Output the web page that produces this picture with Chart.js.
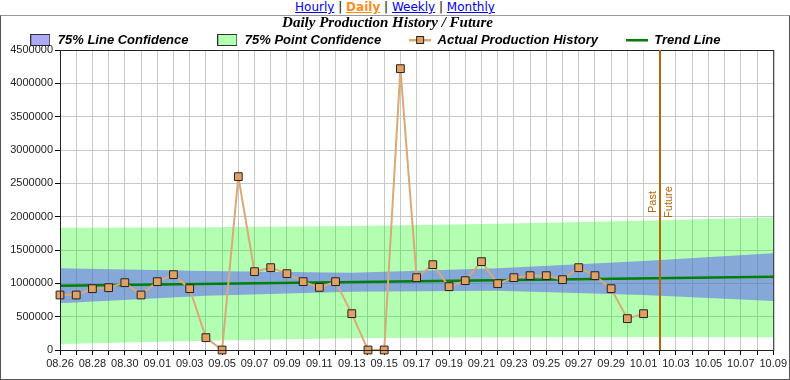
<!DOCTYPE html>
<html lang="en">
<head>
  <meta charset="UTF-8">
  <title>Daily Production History / Future</title>
  <style>
    body {
      margin: 0;
      background: white;
      font-family: "DejaVu Sans", sans-serif;
    }
    #nav {
      width: 790px;
      height: 15px;
      line-height: 14px;
      font-size: 12px;
      text-align: center;
    }
    #nav a { color: #0000EE; }
    #nav a.cur { color: #FF8C1A; font-weight: bold; }
    #box {
      position: absolute;
      left: 0;
      top: 15px;
      width: 788px;
      height: 363px;
      border: 1px solid #555;
      border-top-color: #999;
    }
  </style>
</head>
<body>
  <div id="nav"><a href="#">Hourly</a> | <a href="#" class="cur">Daily</a> | <a href="#">Weekly</a> | <a href="#">Monthly</a></div>
  <div id="box"><canvas id="chart" width="788" height="363"></canvas></div>

  <script src="https://cdn.jsdelivr.net/npm/chart.js"></script>
  <script>
    const dates = [
      '08.26', '08.27', '08.28', '08.29', '08.30', '08.31',
      '09.01', '09.02', '09.03', '09.04', '09.05', '09.06', '09.07', '09.08', '09.09', '09.10',
      '09.11', '09.12', '09.13', '09.14', '09.15', '09.16', '09.17', '09.18', '09.19', '09.20',
      '09.21', '09.22', '09.23', '09.24', '09.25', '09.26', '09.27', '09.28', '09.29', '09.30',
      '10.01', '10.02', '10.03', '10.04', '10.05', '10.06', '10.07', '10.08', '10.09'
    ];
    // actual daily production, 08.26 .. 10.01
    const production = [
      825000, 825000, 920000, 935000, 1010000, 825000,
      1025000, 1130000, 920000, 185000, 0, 2600000, 1175000, 1235000, 1145000, 1025000,
      940000, 1025000, 545000, 0, 0, 4220000, 1085000, 1280000, 950000, 1040000,
      1325000, 995000, 1085000, 1115000, 1115000, 1055000, 1235000, 1115000, 920000, 470000,
      545000
    ];
    const trendDates = ['08.26', '10.09'];
    const trendValues = [965000, 1100000];

    const bandDates = ['08.26', '09.04', '09.13', '09.22', '10.01', '10.09'];
    const lineUpper = [1225000, 1185000, 1160000, 1225000, 1335000, 1450000];
    const lineLower = [700000, 815000, 875000, 890000, 825000, 735000];
    const pointUpper = [1835000, 1840000, 1860000, 1895000, 1940000, 1990000];
    const pointLower = [90000, 140000, 175000, 190000, 195000, 190000];

    const pastFutureDate = '10.02';
    const yTicks = { min: 0, max: 4500000, step: 500000 };

    const BROWN = '#B8660C';
    const pairs = (xs, ys) => xs.map((x, i) => ({ x: x, y: ys[i] }));

    // little legend pictures
    function swatch(fill) {
      const c = document.createElement('canvas');
      c.width = 20; c.height = 12;
      const g = c.getContext('2d');
      g.fillStyle = fill;
      g.fillRect(0, 0, 20, 12);
      g.strokeStyle = '#333';
      g.strokeRect(0.5, 0.5, 19, 11);
      return c;
    }
    function lineIcon(color, marker) {
      const c = document.createElement('canvas');
      c.width = 22; c.height = 10;
      const g = c.getContext('2d');
      g.fillStyle = color;
      g.fillRect(0, 4, 22, 2.5);
      if (marker) {
        g.fillStyle = marker;
        g.fillRect(7.5, 1.5, 7, 7);
        g.strokeStyle = '#222';
        g.strokeRect(7.5, 1.5, 7, 7);
      }
      return c;
    }

    const pad = '\u00a0\u00a0\u00a0\u00a0\u00a0\u00a0\u00a0';
    const legendItems = [
      { text: '75% Line Confidence' + pad, pointStyle: swatch('#ACA8FE') },
      { text: '75% Point Confidence' + pad, pointStyle: swatch('#B3FFB3') },
      { text: 'Actual Production History' + pad, pointStyle: lineIcon('#DDA877', '#E2A063') },
      { text: 'Trend Line' + pad, pointStyle: lineIcon('#008000') }
    ];

    const frameAndMarker = {
      id: 'frameAndMarker',
      afterDatasetsDraw(chart) {
        const { ctx, chartArea: a, scales } = chart;
        ctx.save();
        ctx.strokeStyle = '#222';
        ctx.lineWidth = 1;
        ctx.strokeRect(a.left + 0.5, a.top + 0.5, a.right - a.left, a.bottom - a.top);

        const x = Math.round(scales.x.getPixelForValue(dates.indexOf(pastFutureDate)));
        ctx.strokeStyle = BROWN;
        ctx.lineWidth = 2;
        ctx.beginPath();
        ctx.moveTo(x, a.top);
        ctx.lineTo(x, a.bottom);
        ctx.stroke();

        const y = scales.y.getPixelForValue(2220000);
        ctx.fillStyle = BROWN;
        ctx.font = '11px "Liberation Sans", Arial, sans-serif';
        ctx.textAlign = 'center';
        ctx.translate(x, y);
        ctx.rotate(-Math.PI / 2);
        ctx.textBaseline = 'bottom';
        ctx.fillText('Past', 0, -2);
        ctx.textBaseline = 'top';
        ctx.fillText('Future', 0, 3);
        ctx.restore();
      }
    };

    const band = { borderWidth: 0, pointRadius: 0, tension: 0 };

    new Chart(document.getElementById('chart'), {
      type: 'line',
      data: {
        labels: dates,
        datasets: [
          Object.assign({ data: pairs(bandDates, pointUpper), fill: false, order: 4 }, band),
          Object.assign({ data: pairs(bandDates, pointLower), fill: '-1', backgroundColor: 'rgba(0,255,0,0.3)', order: 3 }, band),
          Object.assign({ data: pairs(bandDates, lineUpper), fill: false, order: 2 }, band),
          Object.assign({ data: pairs(bandDates, lineLower), fill: '-1', backgroundColor: 'rgba(89,81,253,0.5)', order: 2 }, band),
          {
            data: pairs(trendDates, trendValues),
            borderColor: '#008000',
            borderWidth: 2.5,
            pointRadius: 0,
            fill: false,
            order: 1
          },
          {
            data: production,
            borderColor: '#DDA877',
            borderWidth: 2,
            pointStyle: 'rect',
            pointRadius: 5.5,
            pointBackgroundColor: '#E2A063',
            pointBorderColor: '#222',
            pointBorderWidth: 1,
            fill: false,
            clip: false,
            order: 0
          }
        ]
      },
      options: {
        responsive: false,
        animation: false,
        layout: { padding: { left: 0, right: 15, top: 0, bottom: 0 } },
        plugins: {
          tooltip: { enabled: false },
          title: {
            display: true,
            text: 'Daily Production History / Future',
            color: '#000',
            font: { family: '"Liberation Serif", "Times New Roman", serif', size: 15, style: 'italic', weight: 'bold', lineHeight: 1 },
            padding: { top: 0, bottom: 0 }
          },
          legend: {
            display: true,
            maxHeight: 19,
            labels: {
              usePointStyle: true,
              pointStyleWidth: 22,
              boxHeight: 12,
              padding: 2.5,
              color: '#000',
              font: { family: '"Liberation Sans", Arial, sans-serif', size: 13, style: 'italic', weight: 'bold' },
              generateLabels: () => legendItems.map(it => ({
                text: it.text, pointStyle: it.pointStyle, hidden: false, lineWidth: 0,
                fillStyle: 'transparent', strokeStyle: 'transparent'
              }))
            },
            onClick: () => {}
          }
        },
        scales: {
          x: {
            type: 'category',
            offset: false,
            afterFit: s => { s.height = 29; },
            border: { color: '#000', width: 1 },
            grid: { color: '#c8c8c8', tickColor: '#000', tickLength: 5 },
            ticks: {
              autoSkip: false,
              maxRotation: 0,
              padding: 2,
              color: '#222',
              font: { family: '"Liberation Sans", Arial, sans-serif', size: 11 },
              callback: (v, i) => (i % 2 === 0 ? dates[i] : '')
            }
          },
          y: {
            min: yTicks.min,
            max: yTicks.max,
            afterFit: s => { s.width = 59; },
            border: { color: '#000', width: 1 },
            grid: { color: '#c8c8c8', tickColor: '#000', tickLength: 5 },
            ticks: {
              stepSize: yTicks.step,
              padding: 2,
              color: '#222',
              font: { family: '"Liberation Sans", Arial, sans-serif', size: 11 },
              callback: v => String(v)
            }
          }
        }
      },
      plugins: [frameAndMarker]
    });
  </script>
</body>
</html>
